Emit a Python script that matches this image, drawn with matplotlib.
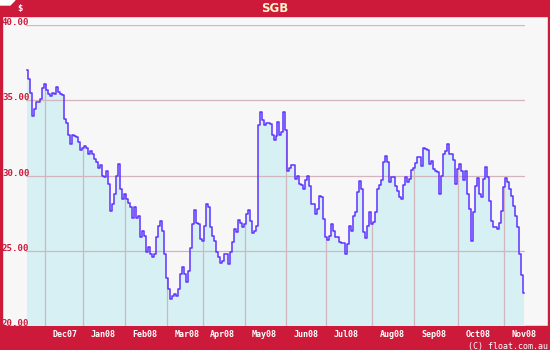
import matplotlib
matplotlib.use("Agg")
import matplotlib.pyplot as plt
from matplotlib import transforms
from matplotlib.patches import Rectangle, Polygon
import numpy as np

# daily closing price, one value per trading day (Nov07 - Nov08)
price = [37.04, 36.40, 35.50, 33.93, 34.44, 34.90, 34.90, 35.10, 35.80, 36.07,
         35.70, 35.44, 35.27, 35.49, 35.44, 35.89, 35.56, 35.44, 35.33, 33.78,
         33.49, 32.67, 32.10, 32.67, 32.60, 32.56, 32.20, 31.70, 31.85, 31.96,
         31.85, 31.45, 31.62, 31.45, 31.10, 30.89, 30.50, 30.73, 30.00, 29.93,
         30.33, 29.44, 27.67, 28.10, 28.78, 30.00, 30.78, 29.10, 28.44, 28.78,
         28.44, 28.16, 27.90, 27.20, 27.90, 27.20, 27.30, 25.90, 26.33, 26.00,
         24.90, 25.22, 24.78, 24.60, 24.78, 25.90, 26.67, 27.00, 26.33, 24.78,
         23.22, 22.44, 21.78, 22.00, 22.10, 22.00, 22.44, 23.44, 23.90, 23.44,
         22.90, 23.67, 25.20, 26.78, 27.70, 26.85, 26.78, 25.78, 25.67, 26.67,
         28.10, 27.90, 26.56, 26.00, 25.67, 24.90, 24.56, 24.20, 24.33, 24.78,
         24.78, 24.10, 24.90, 25.56, 26.45, 26.22, 27.05, 26.82, 26.56, 26.78,
         27.44, 27.70, 27.00, 26.16, 26.33, 26.67, 33.33, 34.20, 33.70, 33.33,
         33.49, 33.49, 33.40, 32.67, 32.33, 32.60, 33.56, 32.67, 32.89, 34.20,
         33.00, 30.33, 30.50, 30.67, 30.73, 29.78, 30.00, 29.44, 29.40, 29.11,
         29.67, 30.00, 29.33, 28.10, 28.10, 27.44, 27.78, 28.67, 28.56, 27.11,
         25.90, 25.70, 26.00, 26.78, 26.33, 25.90, 25.90, 25.56, 25.50, 25.50,
         24.78, 25.44, 26.67, 26.33, 27.33, 27.56, 28.89, 29.62, 29.11, 26.22,
         25.85, 26.67, 27.56, 26.78, 26.89, 27.56, 29.11, 29.40, 29.67, 30.90,
         31.27, 30.90, 29.56, 29.89, 29.89, 29.33, 28.96, 28.56, 28.44, 29.40,
         29.89, 29.56, 29.78, 30.38, 30.50, 30.82, 31.22, 31.22, 30.60, 31.80,
         31.75, 31.67, 30.78, 30.96, 30.44, 30.27, 30.20, 28.78, 30.00, 31.44,
         31.62, 32.07, 31.44, 31.44, 31.00, 29.44, 30.44, 30.78, 30.33, 29.67,
         30.29, 28.78, 27.78, 25.67, 27.56, 29.33, 29.85, 28.78, 28.56, 29.78,
         30.56, 29.89, 28.33, 27.00, 26.56, 26.56, 26.45, 26.82, 27.67, 29.22,
         29.85, 29.56, 29.10, 28.67, 28.00, 27.33, 26.60, 24.78, 23.40, 22.20]

# trading-day index of the first day of each month
month_start = [9, 28, 49, 70, 88, 109, 130, 150, 173, 194, 216, 239]
month_labels = ['Dec07', 'Jan08', 'Feb08', 'Mar08', 'Apr08', 'May08',
                'Jun08', 'Jul08', 'Aug08', 'Sep08', 'Oct08', 'Nov08']
y_ticks = [20, 25, 30, 35, 40]
y_labels = ['20.00', '25.00', '30.00', '35.00', '40.00']

red = '#cd1a3b'
bg = '#f7f7f7'
fill_c = '#d6f0f3'
line_c = '#5f33ff'
grid_c = '#d3b5bd'

W, H = 550, 350
fig = plt.figure(figsize=(5.5, 3.5), dpi=100, facecolor=bg)

# header and footer bands, side borders (drawn under the axes)
fig.patches.append(Rectangle((0, 1 - 16/H), 1, 16/H, transform=fig.transFigure,
                             color=red, zorder=0))
fig.patches.append(Rectangle((0, 0), 1, 24/H, transform=fig.transFigure,
                             color=red, zorder=0))
fig.patches.append(Rectangle((0, 0), 2/W, 1, transform=fig.transFigure,
                             color=red, zorder=0))
fig.patches.append(Rectangle((1 - 2/W, 0), 2/W, 1, transform=fig.transFigure,
                             color=red, zorder=0))
fig.patches.append(Polygon([(0, 1), (15/W, 1), (10/W, 1 - 5/H), (0, 1 - 5/H)],
                           closed=True, transform=fig.transFigure,
                           color='white', zorder=1))

ax = fig.add_axes([26/W, 24/H, 499/W, 301/H])
ax.set_zorder(5)
ax.set_facecolor(bg)
for s in ax.spines.values():
    s.set_visible(False)

x = np.arange(len(price))
y = np.array(price)
ax.set_xlim(-0.5, 249.5)
ax.set_ylim(20, 40)

ax.fill_between(x, 20, y, step='mid', color=fill_c, lw=0, zorder=1)
for v in y_ticks[1:]:
    ax.axhline(v, color=grid_c, lw=0.9, zorder=2)
# month lines only drawn under the curve
ax.vlines(month_start, 20, y[month_start], color=grid_c, lw=0.9, zorder=2)
ax.plot(x, y, drawstyle='steps-mid', color=line_c, lw=1.1, zorder=3)

ax.set_yticks([])
ax.set_xticks([m + 10 for m in month_start], month_labels)
ax.tick_params(axis='x', length=0, pad=3, labelcolor='white', labelsize=6)
for t in ax.get_xticklabels():
    t.set_fontfamily('DejaVu Sans Mono')
    t.set_fontweight('bold')

# y labels sit at the left edge, just above their grid line
trans = transforms.blended_transform_factory(fig.transFigure, ax.transData)
for v, lab in zip(y_ticks, y_labels):
    ax.text(2/W, v, lab, transform=trans, ha='left', va='baseline',
            color=red, fontsize=6.6, family='DejaVu Sans Mono', fontweight='bold',
            clip_on=False)

fig.text(0.5, 1 - 8.5/H, 'SGB', ha='center', va='center', color='#fff6c8',
         fontsize=8.5, fontweight='bold', zorder=6)
fig.text(20/W, 1 - 8.5/H, '$', ha='center', va='center', color='white',
         fontsize=6.5, family='DejaVu Sans Mono', fontweight='bold', zorder=6)
fig.text(1 - 2/W, 4/H, '(C) float.com.au', ha='right', va='center',
         color='white', fontsize=6, family='DejaVu Sans Mono', zorder=6)

plt.savefig('out.png', dpi=100, facecolor=bg)
